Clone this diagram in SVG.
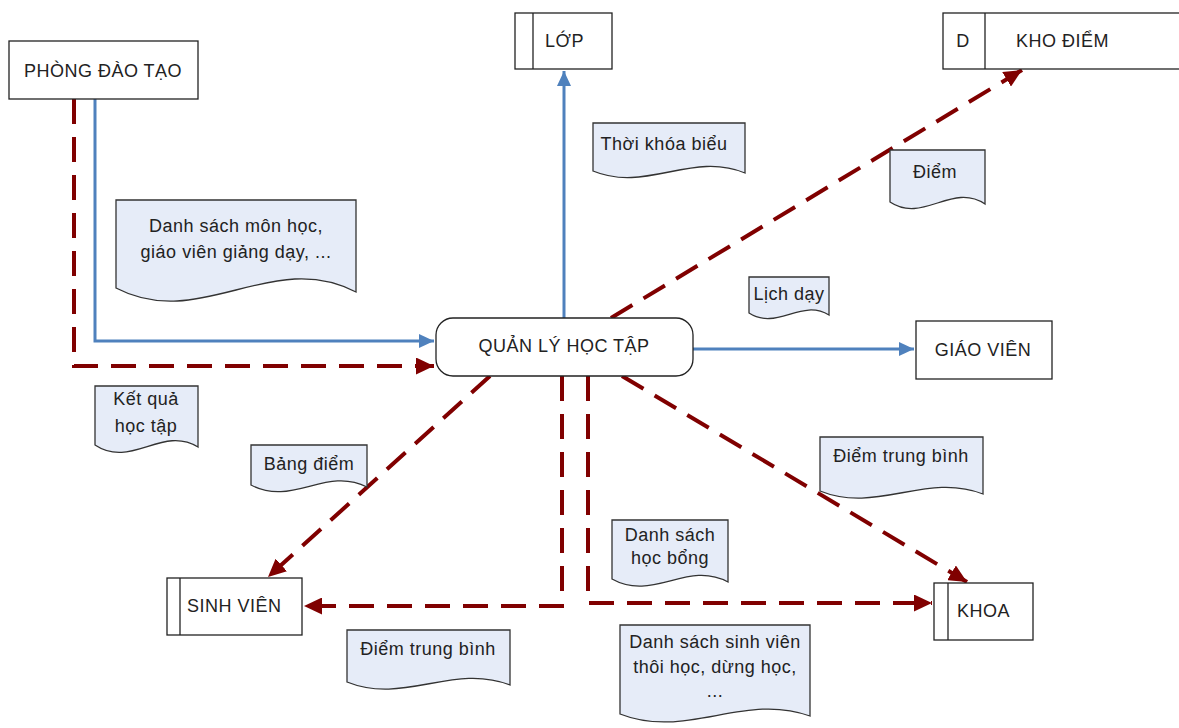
<svg xmlns="http://www.w3.org/2000/svg" width="1179" height="728" viewBox="0 0 1179 728">
  <style>
    text { font-family: "Liberation Sans", Arial, sans-serif; font-size: 18px; letter-spacing: 0.5px; fill: #222; }
    .mid { text-anchor: middle; }
    .box { fill: #fff; stroke: #222; stroke-width: 1.3; }
    .doc { fill: #E6ECF8; stroke: #333; stroke-width: 1.3; }
    .flow { fill: none; stroke: #4F81BD; stroke-width: 3; }
    .data { fill: none; stroke: #800000; stroke-width: 4; stroke-dasharray: 25 13; }
  </style>
  <defs>
    <marker id="arrowBlue" markerUnits="userSpaceOnUse" markerWidth="16" markerHeight="14" refX="15" refY="7" orient="auto">
      <path d="M0,0 L15,7 L0,14 Z" fill="#4F81BD"/>
    </marker>
    <marker id="arrowRed" markerUnits="userSpaceOnUse" markerWidth="19" markerHeight="17" refX="18" refY="8.5" orient="auto">
      <path d="M0,0 L18,8.5 L0,17 Z" fill="#800000"/>
    </marker>
  </defs>

  <rect width="1179" height="728" fill="#fff"/>

  <!-- connectors -->
  <g id="connectors">
    <polyline class="flow" points="95,99 95,341 434,341" marker-end="url(#arrowBlue)"/>
    <polyline class="data" points="74,99 74,366 434,366" marker-end="url(#arrowRed)"/>
    <line class="flow" x1="564" y1="318" x2="564" y2="71" marker-end="url(#arrowBlue)"/>
    <line class="data" x1="611" y1="318" x2="1022" y2="70" marker-end="url(#arrowRed)"/>
    <line class="flow" x1="693" y1="349" x2="914" y2="349" marker-end="url(#arrowBlue)"/>
    <line class="data" x1="490" y1="376" x2="268" y2="577" marker-end="url(#arrowRed)"/>
    <polyline class="data" points="562,376 562,606 304,606" marker-end="url(#arrowRed)"/>
    <polyline class="data" points="588,376 588,603 932,603" marker-end="url(#arrowRed)"/>
    <line class="data" x1="622" y1="376" x2="967" y2="582" marker-end="url(#arrowRed)"/>
  </g>

  <!-- external entities and stores -->
  <g id="phong-dao-tao">
    <rect class="box" x="9" y="41" width="189" height="58"/>
    <text class="mid" x="103" y="77">PHÒNG ĐÀO TẠO</text>
  </g>
  <g id="lop">
    <rect class="box" x="515" y="13" width="97" height="56"/>
    <line class="box" x1="533" y1="13" x2="533" y2="69"/>
    <text x="545" y="47">LỚP</text>
  </g>
  <g id="kho-diem">
    <rect class="box" x="943" y="13" width="240" height="56"/>
    <line class="box" x1="985" y1="13" x2="985" y2="69"/>
    <text class="mid" x="963" y="47">D</text>
    <text x="1016" y="47">KHO ĐIỂM</text>
  </g>
  <g id="quan-ly-hoc-tap">
    <rect class="box" x="436" y="318" width="257" height="58" rx="17" ry="17"/>
    <text class="mid" x="564" y="352">QUẢN LÝ HỌC TẬP</text>
  </g>
  <g id="giao-vien">
    <rect class="box" x="916" y="321" width="136" height="58"/>
    <text class="mid" x="983" y="356">GIÁO VIÊN</text>
  </g>
  <g id="sinh-vien">
    <rect class="box" x="167" y="578" width="135" height="57"/>
    <line class="box" x1="180" y1="578" x2="180" y2="635"/>
    <text x="187" y="612">SINH VIÊN</text>
  </g>
  <g id="khoa">
    <rect class="box" x="934" y="583" width="99" height="57"/>
    <line class="box" x1="948" y1="583" x2="948" y2="640"/>
    <text x="957" y="617">KHOA</text>
  </g>

  <!-- data documents -->
  <g id="doc-danh-sach-mon-hoc">
    <path class="doc" d="M116,200 H356 V292 C272,248 200,332 116,288 Z"/>
    <text class="mid" x="236" y="232">Danh sách môn học,</text>
    <text class="mid" x="236" y="258">giáo viên giảng dạy, ...</text>
  </g>
  <g id="doc-thoi-khoa-bieu">
    <path class="doc" d="M593,123 H745 V173 C692,151 646,193 593,171 Z"/>
    <text class="mid" x="664" y="150">Thời khóa biểu</text>
  </g>
  <g id="doc-diem">
    <path class="doc" d="M890,150 H985 V204 C952,182 923,224 890,202 Z"/>
    <text class="mid" x="935" y="178">Điểm</text>
  </g>
  <g id="doc-lich-day">
    <path class="doc" d="M749,277 H829 V315 C801,298 777,331 749,313 Z"/>
    <text class="mid" x="789" y="300">Lịch dạy</text>
  </g>
  <g id="doc-ket-qua">
    <path class="doc" d="M95,386 H198 V447 C162,425 131,469 95,445 Z"/>
    <text class="mid" x="146" y="405">Kết quả</text>
    <text class="mid" x="146" y="432">học tập</text>
  </g>
  <g id="doc-bang-diem">
    <path class="doc" d="M251,445 H367 V487 C326,466 292,507 251,485 Z"/>
    <text class="mid" x="309" y="470">Bảng điểm</text>
  </g>
  <g id="doc-diem-tb-khoa">
    <path class="doc" d="M820,437 H983 V494 C926,472 877,514 820,491 Z"/>
    <text class="mid" x="901" y="462">Điểm trung bình</text>
  </g>
  <g id="doc-hoc-bong">
    <path class="doc" d="M612,520 H728 V582 C687,560 653,602 612,579 Z"/>
    <text class="mid" x="670" y="541">Danh sách</text>
    <text class="mid" x="670" y="564">học bổng</text>
  </g>
  <g id="doc-diem-tb-sv">
    <path class="doc" d="M347,630 H510 V685 C453,663 404,705 347,682 Z"/>
    <text class="mid" x="428" y="655">Điểm trung bình</text>
  </g>
  <g id="doc-thoi-hoc">
    <path class="doc" d="M620,625 H810 V716 C744,692 686,740 620,714 Z"/>
    <text class="mid" x="715" y="648">Danh sách sinh viên</text>
    <text class="mid" x="715" y="673">thôi học, dừng học,</text>
    <text class="mid" x="715" y="697">...</text>
  </g>
</svg>
